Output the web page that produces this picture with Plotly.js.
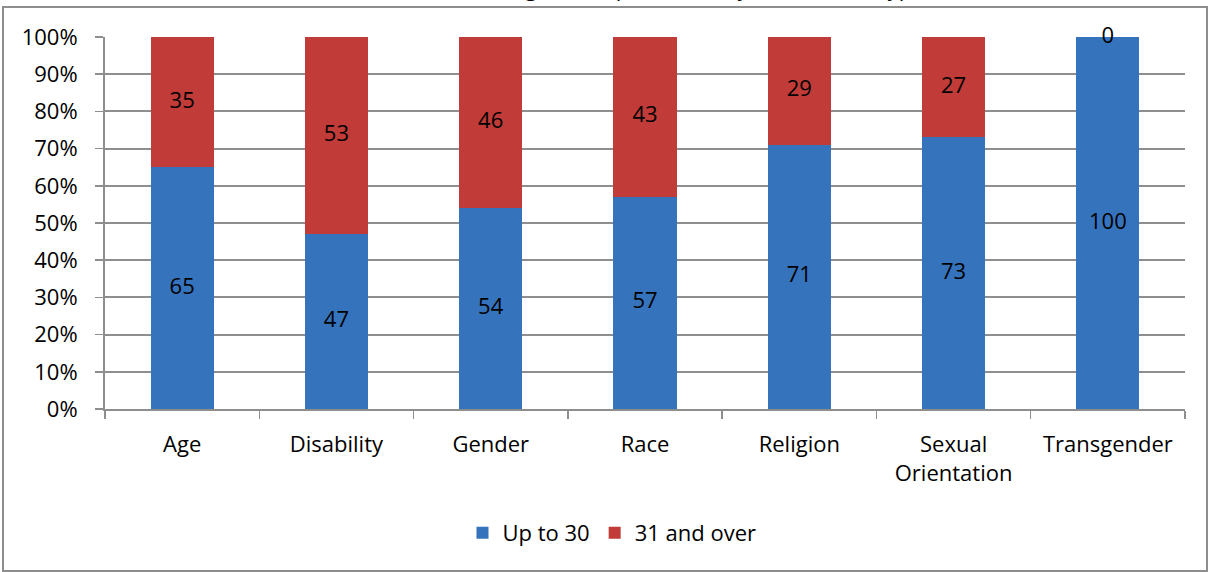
<!DOCTYPE html>
<html>
<head>
<meta charset="utf-8">
<script src="https://cdn.plot.ly/plotly-3.0.1.min.js"></script>
<style>
html,body{margin:0;padding:0;background:#fff;}
#chart{width:1213px;height:572px;}
</style>
</head>
<body>
<div id="chart"></div>
<script>
// ---- data ----
var categories = ["Age", "Disability", "Gender", "Race", "Religion", "Sexual<br>Orientation", "Transgender"];
var upTo30 = [65, 47, 54, 57, 71, 73, 100];
var over31 = [35, 53, 46, 43, 29, 27, 0];
var seriesNames = ["Up to 30", "31 and over"];
var yTickVals = [0, 10, 20, 30, 40, 50, 60, 70, 80, 90, 100];
var titleText = "Age of Perpetrators [by Hate Crime Type]";

// ---- layout geometry (pixels) ----
var W = 1213, H = 572;
var plotL = 105, plotR = 1185, plotT = 37, plotB = 409;
var pw = plotR - plotL, ph = plotB - plotT;
function px2x(p){ return (p - plotL) / pw; }
function px2y(p){ return (plotB - p) / ph; }

var FONT = "'Open Sans', 'Noto Sans', sans-serif";
var FS = 22;
var blue = "#3673BD";
var red = "#C13B38";

var labelUpY = upTo30.map(function(v){ return v / 2; });
var labelOverY = upTo30.map(function(v, i){ return v + over31[i] / 2; });

var traces = [
  {type: "bar", name: seriesNames[0], x: categories, y: upTo30,
   marker: {color: blue}, width: 0.41, hoverinfo: "y"},
  {type: "bar", name: seriesNames[1], x: categories, y: over31,
   marker: {color: red}, width: 0.41, hoverinfo: "y"},
  {type: "scatter", mode: "text", x: categories, y: labelUpY, cliponaxis: false,
   text: upTo30.map(String), textposition: "middle center",
   textfont: {family: FONT, size: FS, color: "#000"}, showlegend: false, hoverinfo: "skip"},
  {type: "scatter", mode: "text", x: categories, y: labelOverY, cliponaxis: false,
   text: over31.map(String), textposition: "middle center",
   textfont: {family: FONT, size: FS, color: "#000"}, showlegend: false, hoverinfo: "skip"}
];

var layout = {
  width: W, height: H,
  margin: {l: plotL, r: W - plotR, t: plotT, b: H - plotB, pad: 0},
  paper_bgcolor: "#fff", plot_bgcolor: "#fff",
  barmode: "stack",
  font: {family: FONT, size: FS, color: "#000"},
  xaxis: {
    type: "category", showgrid: false, showline: true, linecolor: "#8e8e8e", linewidth: 2,
    ticks: "outside", tickson: "boundaries", ticklen: 8, tickcolor: "#8e8e8e", tickwidth: 1.5,
    ticklabelstandoff: 15, tickfont: {family: FONT, size: FS, color: "#000"},
    range: [-0.5, 6.5], fixedrange: true
  },
  yaxis: {
    range: [0, 100], tickvals: yTickVals, ticktext: yTickVals.map(function(v){return v + "%";}),
    showgrid: true, gridcolor: "#8e8e8e", gridwidth: 2,
    showline: true, linecolor: "#8e8e8e", linewidth: 2,
    ticks: "outside", ticklen: 8, tickcolor: "#8e8e8e", tickwidth: 1.5,
    ticklabelstandoff: 13, tickfont: {family: FONT, size: FS, color: "#000"},
    zeroline: false, fixedrange: true
  },
  legend: {orientation: "h", x: px2x(612), xanchor: "center", y: px2y(533), yanchor: "middle",
           font: {family: FONT, size: FS, color: "#000"}, traceorder: "normal",
           itemwidth: 30, bgcolor: "rgba(0,0,0,0)"},
  showlegend: true,
  annotations: [{text: titleText, xref: "paper", yref: "paper",
                 x: px2x(934), xanchor: "right", y: px2y(-13), yanchor: "middle",
                 showarrow: false, font: {family: FONT, size: FS, color: "#000"}}],
  shapes: [{type: "rect", xref: "paper", yref: "paper",
            x0: px2x(3), x1: px2x(1207), y0: px2y(571), y1: px2y(7),
            line: {color: "#8e8e8e", width: 2}, fillcolor: "rgba(0,0,0,0)", layer: "below"}]
};

Plotly.newPlot("chart", traces, layout, {displayModeBar: false, staticPlot: true});
</script>
</body>
</html>
